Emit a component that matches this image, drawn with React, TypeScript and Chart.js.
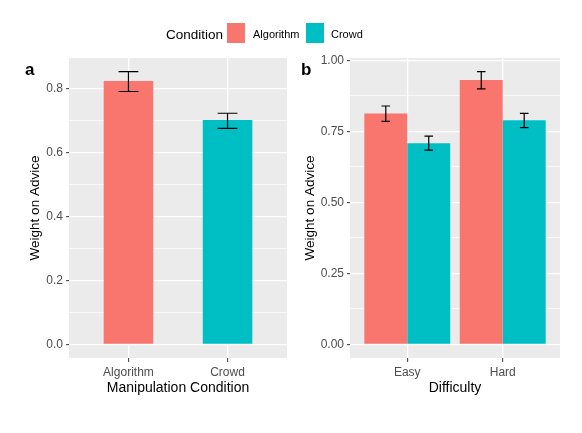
import React, { useEffect, useRef } from 'react';
import { Chart, registerables } from 'chart.js';

Chart.register(...registerables);

const FONT = "'Liberation Sans', Arial, Helvetica, sans-serif";
Chart.defaults.font.family = FONT;

const RED = '#F8766D';
const TEAL = '#00BFC4';

// Panel a: Manipulation Condition
const manipCategories = ['Algorithm', 'Crowd'];
const manipMeans = [0.823, 0.701];
const manipLow = [0.79, 0.675];
const manipHigh = [0.852, 0.722];
const majorTicksA = [0, 0.2, 0.4, 0.6, 0.8];
const minorTicksA = [0.1, 0.3, 0.5, 0.7];

// Panel b: Difficulty
const diffCategories = ['Easy', 'Hard'];
const algMeans = [0.813, 0.931];
const algLow = [0.785, 0.899];
const algHigh = [0.839, 0.96];
const crowdMeans = [0.708, 0.789];
const crowdLow = [0.684, 0.763];
const crowdHigh = [0.733, 0.813];
const majorTicksB = [0, 0.25, 0.5, 0.75, 1.0];
const minorTicksB = [0.125, 0.375, 0.625, 0.875];

const legendTitle = 'Condition';
const legendLabels = ['Algorithm', 'Crowd'];

const panelBg = {
  id: 'panelBg',
  beforeDraw(chart: any) {
    const { ctx, chartArea: a } = chart;
    ctx.save();
    ctx.fillStyle = '#EBEBEB';
    ctx.fillRect(a.left, a.top, a.right - a.left, a.bottom - a.top);
    ctx.restore();
  },
};

function errorBars(sets: { low: number[]; high: number[] }[], capUnits: number) {
  return {
    id: 'errorBars',
    afterDatasetsDraw(chart: any) {
      const { ctx } = chart;
      const xs = chart.scales.x;
      const ys = chart.scales.y;
      const half = Math.abs(xs.getPixelForValue(1 + capUnits / 2) - xs.getPixelForValue(1));
      ctx.save();
      ctx.strokeStyle = '#000000';
      ctx.lineWidth = 1.2;
      sets.forEach((s, di) => {
        const meta = chart.getDatasetMeta(di);
        meta.data.forEach((el: any, i: number) => {
          const x = el.x;
          const yl = ys.getPixelForValue(s.low[i]);
          const yh = ys.getPixelForValue(s.high[i]);
          ctx.beginPath();
          ctx.moveTo(x, yh);
          ctx.lineTo(x, yl);
          ctx.moveTo(x - half, yh);
          ctx.lineTo(x + half, yh);
          ctx.moveTo(x - half, yl);
          ctx.lineTo(x + half, yl);
          ctx.stroke();
        });
      });
      ctx.restore();
    },
  };
}

function yScale(majors: number[], minors: number[], hi: number, decimals: number, width: number, padTop: number) {
  const all = [...majors, ...minors].sort((a, b) => a - b);
  const isMajor = (v: number) => majors.some((m) => Math.abs(m - v) < 1e-9);
  const tickMajor = (c: any) => (c && c.tick ? isMajor(c.tick.value) : true);
  return {
    type: 'linear',
    min: -0.05 * hi,
    max: hi * 1.05,
    bounds: 'data',
    afterBuildTicks: (s: any) => {
      s.ticks = all.map((v) => ({ value: v }));
    },
    afterFit: (s: any) => {
      s.width = width;
    },
    ticks: {
      autoSkip: false,
      callback: (v: any) => (isMajor(Number(v)) ? Number(v).toFixed(decimals) : ''),
      color: '#4D4D4D',
      font: { size: 12 },
      padding: 3,
    },
    grid: {
      color: '#FFFFFF',
      lineWidth: (c: any) => (tickMajor(c) ? 1.3 : 0.7),
      tickColor: (c: any) => (tickMajor(c) ? '#333333' : 'rgba(0,0,0,0)'),
      tickLength: 3,
      tickWidth: 1,
    },
    border: { display: false },
    title: {
      display: true,
      text: 'Weight on Advice',
      color: '#000000',
      font: { size: 13.5, lineHeight: 1 },
      padding: { top: padTop, bottom: 0 },
    },
  };
}

function xScale(cats: string[], title: string) {
  return {
    type: 'linear',
    min: 0.4,
    max: cats.length + 0.6,
    bounds: 'data',
    offset: false,
    afterBuildTicks: (s: any) => {
      s.ticks = cats.map((_, i) => ({ value: i + 1 }));
    },
    afterFit: (s: any) => {
      s.height = 75;
    },
    ticks: {
      autoSkip: false,
      maxRotation: 0,
      callback: (v: any) => cats[Math.round(Number(v)) - 1] ?? '',
      color: '#4D4D4D',
      font: { size: 12 },
      padding: 3,
    },
    grid: {
      color: '#FFFFFF',
      lineWidth: 1.3,
      tickColor: '#333333',
      tickLength: 4,
      tickWidth: 1,
      offset: false,
    },
    border: { display: false },
    title: {
      display: true,
      text: title,
      color: '#000000',
      font: { size: 14, lineHeight: 1 },
      padding: { top: 0, bottom: 38 },
    },
  };
}

function configA(): any {
  return {
    type: 'bar',
    data: {
      datasets: [
        {
          data: manipCategories.map((_, i) => ({ x: i + 1, y: manipMeans[i] })),
          backgroundColor: [RED, TEAL],
          borderWidth: 0,
          categoryPercentage: 1,
          barPercentage: 0.5,
        },
      ],
    },
    options: {
      responsive: false,
      animation: false,
      devicePixelRatio: 1,
      layout: { padding: { left: 0, top: 58, right: 4, bottom: 0 } },
      plugins: { legend: { display: false }, tooltip: { enabled: false } },
      scales: {
        x: xScale(manipCategories, 'Manipulation Condition'),
        y: yScale(majorTicksA, minorTicksA, Math.max(...manipHigh), 1, 69, 29),
      },
    },
    plugins: [panelBg, errorBars([{ low: manipLow, high: manipHigh }], 0.2)],
  };
}

function configB(): any {
  return {
    type: 'bar',
    data: {
      datasets: [
        {
          label: 'Algorithm',
          data: diffCategories.map((_, i) => ({ x: i + 1, y: algMeans[i] })),
          backgroundColor: RED,
          borderWidth: 0,
          categoryPercentage: 0.9,
          barPercentage: 1,
        },
        {
          label: 'Crowd',
          data: diffCategories.map((_, i) => ({ x: i + 1, y: crowdMeans[i] })),
          backgroundColor: TEAL,
          borderWidth: 0,
          categoryPercentage: 0.9,
          barPercentage: 1,
        },
      ],
    },
    options: {
      responsive: false,
      animation: false,
      devicePixelRatio: 1,
      layout: { padding: { left: 0, top: 58, right: 22, bottom: 0 } },
      plugins: { legend: { display: false }, tooltip: { enabled: false } },
      scales: {
        x: xScale(diffCategories, 'Difficulty'),
        y: yScale(
          majorTicksB,
          minorTicksB,
          Math.max(...algHigh, ...crowdHigh),
          2,
          59,
          12.6
        ),
      },
    },
    plugins: [
      panelBg,
      errorBars(
        [
          { low: algLow, high: algHigh },
          { low: crowdLow, high: crowdHigh },
        ],
        0.09
      ),
    ],
  };
}

function Panel({ left, width, makeConfig }: { left: number; width: number; makeConfig: () => any }) {
  const ref = useRef<HTMLCanvasElement | null>(null);
  useEffect(() => {
    if (!ref.current) return;
    const chart = new Chart(ref.current, makeConfig());
    return () => chart.destroy();
  }, []);
  return (
    <canvas
      ref={ref}
      width={width}
      height={433}
      style={{ position: 'absolute', left, top: 0, width, height: 433 }}
    />
  );
}

const textStyle = (left: number, top: number, size: number, extra: any = {}) => ({
  position: 'absolute' as const,
  left,
  top,
  fontFamily: FONT,
  fontSize: size,
  lineHeight: `${size}px`,
  whiteSpace: 'nowrap' as const,
  color: '#000000',
  ...extra,
});

export default function App() {
  return (
    <div
      style={{
        position: 'absolute',
        left: 0,
        top: 0,
        width: 582,
        height: 433,
        background: '#FFFFFF',
        overflow: 'hidden',
      }}
    >
      <Panel left={0} width={291} makeConfig={configA} />
      <Panel left={291} width={291} makeConfig={configB} />
      <div style={textStyle(166, 28, 13.5)}>{legendTitle}</div>
      <div style={{ position: 'absolute', left: 227, top: 22.5, width: 18, height: 20.5, background: RED }} />
      <div style={textStyle(253, 29, 11)}>{legendLabels[0]}</div>
      <div style={{ position: 'absolute', left: 305.5, top: 22.5, width: 18, height: 20.5, background: TEAL }} />
      <div style={textStyle(331, 29, 11)}>{legendLabels[1]}</div>
      <div style={textStyle(25, 60.5, 17, { fontWeight: 'bold' })}>a</div>
      <div style={textStyle(301, 60.5, 17, { fontWeight: 'bold' })}>b</div>
    </div>
  );
}
